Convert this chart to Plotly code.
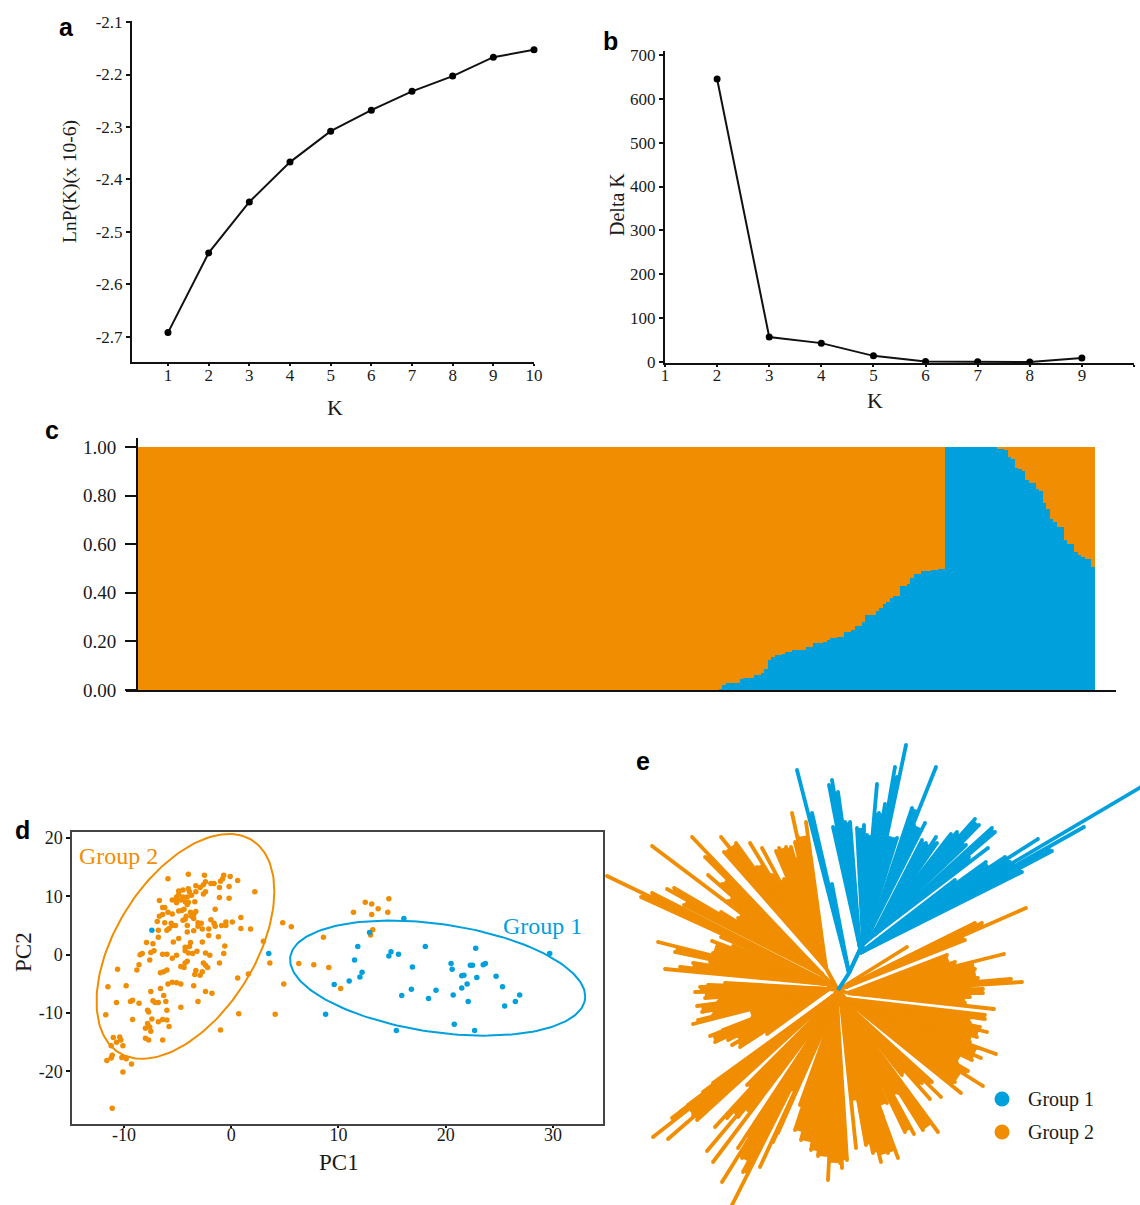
import numpy as np
import plotly.graph_objects as go

W, H = 1140, 1205
ORANGE = "#F18D00"
BLUE = "#00A0DC"
SERIF = "Liberation Serif"
SANS = "Liberation Sans"
INK = "#1a1a1a"

# ---- panel a
k_a = [1, 2, 3, 4, 5, 6, 7, 8, 9, 10]
lnp_k = [-2.692, -2.54, -2.443, -2.367, -2.308, -2.268, -2.232, -2.203, -2.167, -2.153]
lnp_ticks = [-2.1, -2.2, -2.3, -2.4, -2.5, -2.6, -2.7]
lnp_tick_labels = ["-2.1", "-2.2", "-2.3", "-2.4", "-2.5", "-2.6", "-2.7"]

# ---- panel b
k_b = [2, 3, 4, 5, 6, 7, 8, 9]
delta_k = [645, 57, 43, 14, 1, 0.5, 0, 9]
delta_ticks = [0, 100, 200, 300, 400, 500, 600, 700]

# ---- panel c: blue share per accession, run-length read from the steps
blue_levels = [0, .005, .02, .027, .044, .05, .06, .07, .085, .123, .134, .144, .148, .155, .164, .175,
               .193, .197, .207, .212, .219, .237, .247, .264, .281, .307, .326, .337, .353, .363, .377,
               .388, .429, .438, .46, .477, .489, .495, .497, 1.0,
               .993, .986, .959, .952, .915, .91, .901, .863, .852, .829, .818, .77, .744, .705, .693,
               .671, .616, .6, .568, .557, .548, .538, .507]
blue_runs = [167, 1, 1, 4, 1, 3, 2, 1, 1, 1, 1, 2, 1, 2, 4, 2,
             3, 1, 1, 2, 2, 2, 1, 2, 1, 3, 1, 1, 1, 1, 1,
             2, 2, 1, 1, 2, 3, 2, 2, 15,
             2, 1, 1, 1, 1, 1, 1, 1, 2, 1, 1, 1, 1, 1, 1,
             2, 1, 2, 1, 1, 1, 2, 1]
share_ticks = [0, .2, .4, .6, .8, 1]
share_labels = ["0.00", "0.20", "0.40", "0.60", "0.80", "1.00"]

# ---- panel d
pc1_g2 = [-5.9,-4.0,-2.5,-0.7,-0.1,0.6,-0.8,-1.0,-2.4,-2.6,-1.9,-1.6,-3.3,-2.9,-1.1,-0.2,2.2,-4.0,-4.5,-4.9,
          -4.9,-3.9,-3.3,-2.4,-2.6,-3.7,-5.1,-4.5,-4.1,-5.5,-5.1,-6.7,-4.7,-3.4,-4.3,-4.0,-1.1,-0.2,-5.1,-4.1,
          -6.4,-6.2,-4.4,-4.9,-4.6,-1.5,-5.9,-5.5,-6.4,-6.7,-3.8,-3.3,-3.5,-3.7,-4.2,-4.5,-4.3,-3.5,0.9,-6.9,
          -6.2,-5.6,-1.9,-1.6,-0.5,0.1,-3.1,-2.8,-5.2,-5.5,-4.1,-3.1,-1.5,-0.9,-0.5,-5.8,-6.0,-6.8,-2.7,-2.1,
          0.9,1.8,-4.1,-3.5,-2.1,-1.2,-6.8,-4.9,-5.4,-2.7,-7.9,-7.3,-3.8,-4.3,-3.9,-0.6,3.0,-7.2,-7.5,-8.3,
          -8.5,-4.3,-4.0,-3.6,-3.2,-2.4,-2.0,-0.7,-6.4,-6.0,-5.1,-5.5,-7.6,-1.1,-4.1,-4.3,-2.6,-2.4,-2.2,-8.6,
          -4.7,-4.4,-6.0,-6.3,-8.8,-10.6,-6.6,-2.7,-3.3,-3.4,-2.9,1.6,0.6,-5.9,-5.5,-5.1,-4.7,-3.5,-6.6,-9.8,
          -11.5,-7.5,-2.4,-1.8,-6.3,-3.1,-6.1,-7.3,-7.1,-6.8,-9.2,-9.4,-10.7,-8.6,-4.7,-6.0,-7.8,-7.7,-11.7,0.7,
          -9.2,-7.4,-6.4,-6.0,-6.8,-7.8,-8.0,-7.6,-7.5,-5.8,-1.0,-8.0,-7.7,-6.4,-11.0,-10.4,-10.3,-10.7,-11.2,-10.1,
          -11.1,-11.6,-11.2,-10.2,-9.8,-9.3,-10.1,-11.1,4.8,5.6,3.6,4.9,4.1,
          6.3,7.7,9.1,8.6,10.2,11.4,12.5,13.1,13.7,13.1,14.7,14.6,13.2,13.0]
pc2_g2 = [13.0,13.8,13.6,13.6,13.4,12.7,13.0,12.6,12.5,12.0,12.2,12.2,11.8,11.5,11.5,11.7,10.8,11.3,11.1,10.9,
          10.3,10.8,10.8,10.8,10.4,10.2,9.9,9.9,9.9,9.4,9.4,9.3,9.4,9.1,9.1,9.0,9.8,9.7,8.9,8.6,
          8.1,8.1,7.8,7.5,7.6,7.8,7.3,7.0,6.9,6.6,7.3,7.4,6.9,6.6,6.6,5.9,6.1,6.2,6.4,5.7,
          5.5,5.4,6.0,5.4,5.6,5.6,5.5,5.4,5.0,5.0,5.0,4.9,4.9,5.0,5.0,4.5,4.2,4.2,4.4,4.4,
          4.5,4.4,3.9,4.1,3.3,3.1,3.0,2.8,2.2,2.2,2.1,1.9,2.1,1.3,1.4,1.5,2.3,0.7,0.4,0.2,
          0,0.7,0.3,0.2,0.6,0.3,-0.1,0.2,0.1,0.1,-0.1,-0.6,-0.9,-1.4,-1.1,-1.4,-1.4,-1.8,-2.2,-1.7,
          -2.0,-2.2,-2.6,-2.9,-2.6,-2.5,-3.1,-2.9,-2.7,-3.4,-3.5,-3.3,-4.0,-5.0,-4.7,-4.8,-5.0,-5.3,-5.8,-5.3,
          -5.5,-6.3,-6.3,-6.6,-7.0,-8.0,-8.0,-7.9,-8.2,-8.2,-7.8,-8.0,-8.2,-8.3,-9.0,-9.5,-9.5,-9.8,-10.3,-10.1,
          -11.1,-11.0,-11.1,-11.2,-11.5,-11.8,-12.6,-12.4,-13.1,-12.3,-12.9,-14.3,-14.6,-14.6,-14.2,-14.1,-14.6,-15.0,-15.6,-15.6,
          -17.2,-18.1,-17.7,-17.6,-17.8,-18.7,-20.1,-26.3,5.5,4.8,-1.4,-5.0,-10.2,
          -1.5,-1.7,-2.2,3.0,-5.8,7.3,9.0,8.7,7.9,6.9,9.6,7.3,4.3,3.4]
pc1_g1 = [-7.4,3.5,16.1,12.9,11.8,11.5,12.2,12.0,11.0,9.6,8.8,14.9,14.7,15.6,18.1,16.9,15.9,16.8,19.1,18.4,
          20.5,20.6,22.8,22.3,22.5,23.5,23.7,21.5,21.7,22.9,24.7,22.0,21.5,20.7,22.1,25.3,26.9,26.5,25.5,20.8,
          22.7,15.4,29.7]
pc2_g1 = [4.2,0.2,6.2,3.8,1.4,-0.9,-3.0,-3.8,-4.5,-5.1,-10.2,0.5,-0.2,0.1,1.4,-2.1,-7.0,-5.9,-6.1,-7.5,
          -1.5,-2.5,1.1,-1.8,-1.8,-1.7,-1.5,-3.6,-3.5,-3.9,-3.7,-5.0,-5.7,-6.9,-8.0,-5.5,-6.9,-8.0,-8.8,-11.9,
          -13.0,-13.0,0.2]
pc1_ticks = [-10, 0, 10, 20, 30]
pc2_ticks = [-20, -10, 0, 10, 20]
# centre x, centre y, half width, half height, correlation of each ring
ring_g2 = (-4.27, 1.43, 8.29, 19.26, 0.49)
ring_g1 = (19.25, -4.0, 13.76, 9.86, -0.32)

# ---- panel e: each clade is (node x, node y, tip x list, tip y list), in tree units
orange_clades = [
    (-12, 22, [-32,-40,-46,-43,-40,-47,-52,-54,-59,-62,-66,-76,-81,-88,-102,-114,-117],
              [168,153,177,148,132,143,143,111,142,139,115,142,123,147,147,138,153]),
    (-15, 15, [-146,-133,-130,-116,-110,-186,-100,-117,-164,-171,-154],
              [153,133,115,106,89,144,72,78,102,101,85]),
    (-15, 10, [-231,-186,-197,-117], [114,97,93,53]),
    (-12, 6, [-126,-105,-180,-163,-125,-145,-158,-173,-128], [49,44,48,38,37,27,23,21,28]),
    (-9, 1, [-143,-138,-130,-113,-141,-133,-136,-145,-140,-86,-128,-123,-106,-101,-71,-98,-120,-125,-115,-110],
            [-2,3,5,7,-16,-8,-22,-34,-30,-28,-46,-52,-55,-46,-44,-57,-12,-25,-40,-50]),
    (-5, -6, [-125,-135,-150,-158,-166,-185,-170,-145,-141], [-93,-102,-115,-122,-128,-147,-149,-125,-130]),
    (-4, -8, [-91,-123,-111,-100,-90], [-95,-137,-128,-127,-120]),
    (-3, -9, [-131], [-161]),
    (-3, -10, [-125], [-172]),
    (-3, -11, [-116,-106,-100,-96,-95,-90], [-192,-215,-158,-168,-182,-145]),
    (-2, -12, [-78,-65,-60,-48], [-177,-152,-143,-100]),
    (-1, -12, [-43,-37,-27,-20,-38,-10,2,4,9], [-140,-150,-160,-166,-115,-190,-173,-178,-170]),
    (3, -13, [18,20,28,35,43,50,60,45,49], [-158,-110,-155,-163,-172,-163,-168,-127,-113]),
    (5, -13, [67,76,85,100,60], [-142,-144,-140,-142,-103]),
    (6, -12, [103,92,84,94,64], [-107,-109,-93,-92,-85]),
    (8, -10, [123,145,117,130,119,134,143,158,139], [-103,-96,-92,-81,-73,-70,-68,-64,-58]),
    (8, -9, [147,147,142,132,139,132,149], [-25,-29,-37,-33,-47,-52,-42]),
    (10, -3, [156,127,132,145,145,132,184,173,140,137,117,166,109],
             [-19,-13,-7,-3,1,3,8,11,12,21,28,36,35]),
    (8, 3, [127,137,144,188], [50,67,67,82]),
    (8, 5, [69], [43]),
]
blue_clades = [
    (11, 17, [-41,-26,-6], [220,177,106]),
    (22, 42, [-9,-6,0,-5,7,12], [205,210,198,163,168,168]),
    (25, 47, [19,26,29,39,41,47], [162,165,155,206,177,186]),
    (27, 50, [57,59,68,59], [223,213,245,152]),
    (33, 60, [74,98,76,87], [182,223,165,167]),
    (35, 55, [84,88,98,99], [150,147,153,147]),
    (38, 60, [113,119,137,141,128], [156,158,171,165,145]),
    (36, 55, [154,157,150,131], [162,158,142,133]),
    (26, 40, [148,117,167,200,172], [128,110,133,151,128]),
    (22, 37, [303,246,214,184,176], [203,163,139,118,125]),
]
blue_stem_x = [0, 11, 24]
blue_stem_y = [0, 17, 45]
legend_names = ["Group 1", "Group 2"]


def dom_x(a, b):
    return [a / W, b / W]


def dom_y(top, bottom):
    return [1 - bottom / H, 1 - top / H]


def clade_paths(clades, root):
    lx, ly, px, py, ex, ey = [], [], [], [], [], []
    for nx, ny, tx, ty in clades:
        tx, ty = np.array(tx, float), np.array(ty, float)
        ang = np.arctan2(ty - ny, tx - nx)
        ang = np.where(ang < -np.pi / 2 - 0.6, ang + 2 * np.pi, ang)
        ln = np.hypot(tx - nx, ty - ny)
        order = np.argsort(ang)
        ang, ln = ang[order], ln[order]
        lx += [root[0], nx, None]
        ly += [root[1], ny, None]
        for a, l in zip(ang, ln):
            lx += [nx, nx + l * np.cos(a), None]
            ly += [ny, ny + l * np.sin(a), None]
            ex.append(nx + l * np.cos(a))
            ey.append(ny + l * np.sin(a))
        if len(ang) > 1:
            px.append(nx); py.append(ny)
            for i in range(len(ang) - 1):
                m = min(ln[i], ln[i + 1])
                px += [nx + m * np.cos(ang[i]), nx + m * np.cos(ang[i + 1])]
                py += [ny + m * np.sin(ang[i]), ny + m * np.sin(ang[i + 1])]
            px += [nx, None]; py += [ny, None]
    return lx, ly, px, py, ex, ey


def ring(cx, cy, a, b, rho):
    t = np.linspace(0, 2 * np.pi, 181)
    return cx + a * np.cos(t), cy + b * (rho * np.cos(t) + np.sqrt(1 - rho ** 2) * np.sin(t))


fig = go.Figure()
black_line = dict(color="#111111", width=2)
fig.add_trace(go.Scatter(x=k_a, y=lnp_k, mode="lines+markers", line=black_line, cliponaxis=False,
                         marker=dict(color="#000000", size=7), xaxis="x", yaxis="y"))
fig.add_trace(go.Scatter(x=k_b, y=delta_k, mode="lines+markers", line=black_line, cliponaxis=False,
                         marker=dict(color="#000000", size=7), xaxis="x2", yaxis="y2"))

blue_share = np.repeat(blue_levels, blue_runs)
samples = np.arange(len(blue_share))
fig.add_trace(go.Bar(x=samples, y=blue_share, width=1.02, marker=dict(color=BLUE, line_width=0), xaxis="x3", yaxis="y3"))
fig.add_trace(go.Bar(x=samples, y=1 - blue_share, width=1.02, marker=dict(color=ORANGE, line_width=0), xaxis="x3", yaxis="y3"))

fig.add_trace(go.Scatter(x=pc1_g2, y=pc2_g2, mode="markers", marker=dict(color=ORANGE, size=5.5), xaxis="x4", yaxis="y4"))
fig.add_trace(go.Scatter(x=pc1_g1, y=pc2_g1, mode="markers", marker=dict(color=BLUE, size=5.5), xaxis="x4", yaxis="y4"))
for params, col in ((ring_g2, ORANGE), (ring_g1, BLUE)):
    rx, ry = ring(*params)
    fig.add_trace(go.Scatter(x=rx, y=ry, mode="lines", line=dict(color=col, width=2), xaxis="x4", yaxis="y4"))

for clades, col, root in ((orange_clades, ORANGE, (0, 0)), (blue_clades, BLUE, (24, 45))):
    lx, ly, px, py, ex, ey = clade_paths(clades, root)
    fig.add_trace(go.Scatter(x=px, y=py, mode="none", fill="toself", fillcolor=col, xaxis="x5", yaxis="y5"))
    fig.add_trace(go.Scatter(x=lx, y=ly, mode="lines", line=dict(color=col, width=3.8), connectgaps=False,
                             xaxis="x5", yaxis="y5"))
    fig.add_trace(go.Scatter(x=ex, y=ey, mode="markers", marker=dict(color=col, size=3.8), xaxis="x5", yaxis="y5"))
fig.add_trace(go.Scatter(x=blue_stem_x, y=blue_stem_y, mode="lines", line=dict(color=BLUE, width=4), xaxis="x5", yaxis="y5"))

# legend of panel e
fig.add_trace(go.Scatter(x=[164, 164], y=[-109, -142], mode="markers",
                         marker=dict(color=[BLUE, ORANGE], size=15), xaxis="x5", yaxis="y5"))

tick_font = dict(family=SERIF, size=17, color=INK)
axis_base = dict(showgrid=False, zeroline=False, showline=True, linecolor="#111111", linewidth=2,
                 ticks="outside", tickcolor="#111111", tickwidth=1.5, ticklen=4, tickfont=tick_font)

px_per_sample = (1095 - 137) / len(blue_share)
x3_left = -0.5 - (137 - 126) / px_per_sample
x3_right = -0.5 + (1116 - 137) / px_per_sample

fig.update_layout(
    width=W, height=H, margin=dict(l=0, r=0, t=0, b=0, autoexpand=False), paper_bgcolor="white", plot_bgcolor="white",
    showlegend=False, barmode="stack", bargap=0,
    xaxis=dict(axis_base, domain=dom_x(132, 534), range=[0.115, 10], tickvals=k_a, anchor="y",
               ticklen=2, ticklabelstandoff=-5),
    yaxis=dict(axis_base, domain=dom_y(21, 362), range=[-2.748, -2.098], tickvals=lnp_ticks, ticktext=lnp_tick_labels,
               anchor="x"),
    xaxis2=dict(axis_base, domain=dom_x(665, 1134), range=[1, 10], tickvals=list(range(1, 11)), anchor="y2",
                ticklen=2, ticklabelstandoff=-6),
    yaxis2=dict(axis_base, domain=dom_y(51, 363), range=[-2.3, 709], tickvals=delta_ticks, anchor="x2"),
    xaxis3=dict(domain=dom_x(126, 1116), range=[x3_left, x3_right], showgrid=False, zeroline=False, showline=True,
                linecolor="#111111", linewidth=2, showticklabels=False, ticks="", anchor="y3"),
    yaxis3=dict(axis_base, domain=dom_y(438, 690), range=[0, 1.037], tickvals=share_ticks, ticktext=share_labels,
                anchor="free", position=137 / W, tickwidth=2, ticklabelstandoff=5,
                tickfont=dict(family=SERIF, size=19, color=INK), ticklen=11),
    xaxis4=dict(axis_base, domain=dom_x(72, 603), range=[-14.85, 34.67], tickvals=pc1_ticks,
                ticktext=[str(v) for v in pc1_ticks], mirror=True, linewidth=1.5, linecolor="#444444",
                tickfont=dict(family=SERIF, size=18, color=INK), ticklen=2, ticklabelstandoff=-8, anchor="y4"),
    yaxis4=dict(axis_base, domain=dom_y(832, 1124), range=[-29, 21.03], tickvals=pc2_ticks,
                ticktext=[str(v) for v in pc2_ticks], mirror=True, linewidth=1.5, linecolor="#444444",
                tickfont=dict(family=SERIF, size=18, color=INK), anchor="x4"),
    xaxis5=dict(domain=dom_x(605, 1140), range=[-233, 302], visible=False, anchor="y5"),
    yaxis5=dict(domain=dom_y(740, 1205), range=[-215, 250], visible=False, anchor="x5"),
)


def label(text, x, y, size, family=SERIF, color=INK, bold=False, anchor="center", angle=0):
    fig.add_annotation(x=x / W, y=1 - y / H, xref="paper", yref="paper", text=f"<b>{text}</b>" if bold else text,
                       showarrow=False, xanchor=anchor, yanchor="middle", textangle=angle,
                       font=dict(family=family, size=size, color=color))


for letter, lx_, ly_ in (("a", 66, 27), ("b", 610, 41), ("c", 52, 430), ("d", 22, 830), ("e", 643, 761)):
    label(letter, lx_, ly_, 25, family=SANS, color="#000000", bold=True)
label("K", 335, 407, 22)
label("K", 875, 401, 22)
label("LnP(K)(x 10-6)", 70, 182, 19.5, angle=-90)
label("Delta K", 617, 205, 20, angle=-90)
label("PC1", 339, 1162, 23)
label("PC2", 23, 952, 23, angle=-90)
label("Group 2", 118, 856, 24, color=ORANGE)
label("Group 1", 542, 926, 24, color=BLUE)
label(legend_names[0], 1026, 1099, 20, anchor="left")
label(legend_names[1], 1026, 1132, 20, anchor="left")

fig.write_html("out.html", config={"displayModeBar": False},
               post_script="document.body.style.margin='0';document.body.style.overflow='hidden';")
